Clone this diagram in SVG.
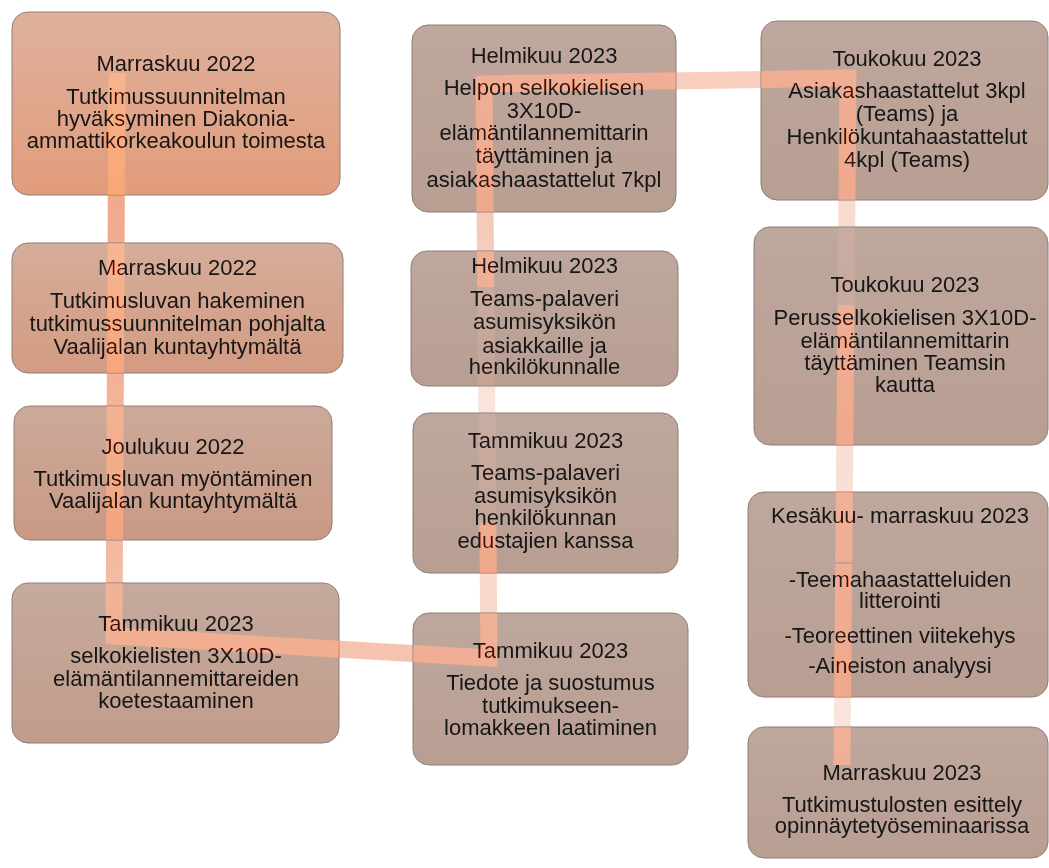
<svg xmlns="http://www.w3.org/2000/svg" width="1049" height="868" viewBox="0 0 1049 868">
<defs>
<linearGradient id="gN1" x1="0" y1="0" x2="0" y2="1"><stop offset="0" stop-color="#deb19d"/><stop offset="1" stop-color="#e29c7b"/></linearGradient>
<linearGradient id="gN2" x1="0" y1="0" x2="0" y2="1"><stop offset="0" stop-color="#d5ad9a"/><stop offset="1" stop-color="#d39b82"/></linearGradient>
<linearGradient id="gN3" x1="0" y1="0" x2="0" y2="1"><stop offset="0" stop-color="#cca999"/><stop offset="1" stop-color="#c99985"/></linearGradient>
<linearGradient id="gN4" x1="0" y1="0" x2="0" y2="1"><stop offset="0" stop-color="#c5aa9d"/><stop offset="1" stop-color="#c19c8b"/></linearGradient>
<linearGradient id="gN" x1="0" y1="0" x2="0" y2="1"><stop offset="0" stop-color="#bea79d"/><stop offset="1" stop-color="#b99e92"/></linearGradient>
<linearGradient id="bA" gradientUnits="userSpaceOnUse" x1="0" y1="73" x2="0" y2="636"><stop offset="0" stop-color="#eea487"/><stop offset="1" stop-color="#f4bea6"/></linearGradient>
<linearGradient id="bC" gradientUnits="userSpaceOnUse" x1="0" y1="658" x2="0" y2="84"><stop offset="0.11" stop-color="#f8d8cc"/><stop offset="0.45" stop-color="#f9e3db"/><stop offset="0.74" stop-color="#f6cab8"/></linearGradient>
<linearGradient id="bE" gradientUnits="userSpaceOnUse" x1="0" y1="78" x2="0" y2="765"><stop offset="0.2" stop-color="#f8dbd0"/><stop offset="0.58" stop-color="#f9e0d6"/><stop offset="0.93" stop-color="#f9e5de"/></linearGradient>
</defs>
<style>
.box{stroke:#8e7f78;stroke-width:1}
.lbl{font-family:"Liberation Sans",Arial,sans-serif;font-size:22px;fill:#161616;text-anchor:middle}
.band{fill:none;stroke-width:17;stroke-linecap:square}
.ov{fill:none;stroke-width:17;stroke-linecap:butt;stroke-linejoin:miter}
.strong{stroke:#e28e79}
.subtle{stroke:#968886}
</style>
<rect width="1049" height="868" fill="#ffffff"/>
<g id="connectors">
<line class="band" x1="117" y1="73" x2="114" y2="636" stroke="url(#bA)" style="stroke-linecap:butt"/>
<line class="band" x1="114" y1="636" x2="489" y2="658" stroke="#f6c4ae"/>
<line class="band" x1="489" y1="658" x2="484" y2="84" stroke="url(#bC)"/>
<line class="band" x1="484" y1="84" x2="848" y2="78" stroke="#f8cfbf"/>
<line class="band" x1="848" y1="78" x2="842" y2="765" stroke="url(#bE)" style="stroke-linecap:butt"/>
</g>
<g id="node1"><rect class="box" x="12" y="12" width="328" height="183" rx="16" fill="url(#gN1)"/>
<text class="lbl"><tspan x="176" y="71">Marraskuu 2022</tspan><tspan x="176" y="104">Tutkimussuunnitelman</tspan><tspan x="176" y="125.5">hyväksyminen Diakonia-</tspan><tspan x="176" y="147.5">ammattikorkeakoulun toimesta</tspan></text></g>
<g id="node2"><rect class="box" x="12" y="243" width="331" height="130" rx="16" fill="url(#gN2)"/>
<text class="lbl"><tspan x="177.5" y="275">Marraskuu 2022</tspan><tspan x="177.5" y="308">Tutkimusluvan hakeminen</tspan><tspan x="177.5" y="331">tutkimussuunnitelman pohjalta</tspan><tspan x="177.5" y="354">Vaalijalan kuntayhtymältä</tspan></text></g>
<g id="node3"><rect class="box" x="14" y="406" width="318" height="134" rx="16" fill="url(#gN3)"/>
<text class="lbl"><tspan x="173" y="454">Joulukuu 2022</tspan><tspan x="173" y="486">Tutkimusluvan myöntäminen</tspan><tspan x="173" y="508">Vaalijalan kuntayhtymältä</tspan></text></g>
<g id="node4"><rect class="box" x="12" y="583" width="327" height="160" rx="16" fill="url(#gN4)"/>
<text class="lbl"><tspan x="176" y="631">Tammikuu 2023</tspan><tspan x="176" y="663">selkokielisten 3X10D-</tspan><tspan x="176" y="686">elämäntilannemittareiden</tspan><tspan x="176" y="708">koetestaaminen</tspan></text></g>
<g id="node5"><rect class="box" x="412" y="25" width="264" height="187" rx="16" fill="url(#gN)"/>
<text class="lbl"><tspan x="544" y="63">Helmikuu 2023</tspan><tspan x="544" y="95">Helpon selkokielisen</tspan><tspan x="544" y="118">3X10D-</tspan><tspan x="544" y="140">elämäntilannemittarin</tspan><tspan x="544" y="163">täyttäminen ja</tspan><tspan x="544" y="187">asiakashaastattelut 7kpl</tspan></text></g>
<g id="node6"><rect class="box" x="411" y="251" width="267" height="135" rx="16" fill="url(#gN)"/>
<text class="lbl"><tspan x="544.5" y="273">Helmikuu 2023</tspan><tspan x="544.5" y="306">Teams-palaveri</tspan><tspan x="544.5" y="329">asumisyksikön</tspan><tspan x="544.5" y="353">asiakkaille ja</tspan><tspan x="544.5" y="374">henkilökunnalle</tspan></text></g>
<g id="node7"><rect class="box" x="413" y="413" width="265" height="160" rx="16" fill="url(#gN)"/>
<text class="lbl"><tspan x="545.5" y="448">Tammikuu 2023</tspan><tspan x="545.5" y="480">Teams-palaveri</tspan><tspan x="545.5" y="503">asumisyksikön</tspan><tspan x="545.5" y="525">henkilökunnan</tspan><tspan x="545.5" y="548">edustajien kanssa</tspan></text></g>
<g id="node8"><rect class="box" x="413" y="613" width="275" height="152" rx="16" fill="url(#gN)"/>
<text class="lbl"><tspan x="550.5" y="658">Tammikuu 2023</tspan><tspan x="550.5" y="690">Tiedote ja suostumus</tspan><tspan x="550.5" y="713">tutkimukseen-</tspan><tspan x="550.5" y="735">lomakkeen laatiminen</tspan></text></g>
<g id="node9"><rect class="box" x="761" y="21" width="287" height="179" rx="16" fill="url(#gN)"/>
<text class="lbl"><tspan x="907" y="66">Toukokuu 2023</tspan><tspan x="907" y="98">Asiakashaastattelut 3kpl</tspan><tspan x="907" y="121">(Teams) ja</tspan><tspan x="907" y="144">Henkilökuntahaastattelut</tspan><tspan x="907" y="167">4kpl (Teams)</tspan></text></g>
<g id="node10"><rect class="box" x="754" y="227" width="294" height="218" rx="16" fill="url(#gN)"/>
<text class="lbl"><tspan x="905" y="292">Toukokuu 2023</tspan><tspan x="905" y="325">Perusselkokielisen 3X10D-</tspan><tspan x="905" y="348">elämäntilannemittarin</tspan><tspan x="905" y="370">täyttäminen Teamsin</tspan><tspan x="905" y="392">kautta</tspan></text></g>
<g id="node11"><rect class="box" x="748" y="492" width="300" height="205" rx="16" fill="url(#gN)"/>
<text class="lbl"><tspan x="900" y="523">Kesäkuu- marraskuu 2023</tspan><tspan x="900" y="587">-Teemahaastatteluiden</tspan><tspan x="900" y="608">litterointi</tspan><tspan x="900" y="643">-Teoreettinen viitekehys</tspan><tspan x="900" y="673">-Aineiston analyysi</tspan></text></g>
<g id="node12"><rect class="box" x="748" y="727" width="300" height="131" rx="16" fill="url(#gN)"/>
<text class="lbl"><tspan x="902" y="780">Marraskuu 2023</tspan><tspan x="902" y="812">Tutkimustulosten esittely</tspan><tspan x="902" y="833">opinnäytetyöseminaarissa</tspan></text></g>
<g id="connectors-over" style="mix-blend-mode:overlay">
<line class="ov strong" x1="117" y1="73" x2="116.35" y2="195"/>
<line class="ov strong" x1="116.09" y1="243" x2="115.4" y2="373"/>
<line class="ov strong" x1="115.23" y1="406" x2="114.51" y2="540"/>
<polyline class="ov strong" points="114.28,583 114,636 339,649.2"/>
<polyline class="ov strong" points="413,653.5 489,658 488.6,613"/>
<line class="ov strong" x1="488.26" y1="573" x2="487.82" y2="523"/>
<line class="ov subtle" x1="487.82" y1="523" x2="486.87" y2="413"/>
<line class="ov subtle" x1="486.63" y1="386" x2="485.77" y2="287"/>
<line class="ov strong" x1="485.77" y1="287" x2="485.45" y2="251"/>
<polyline class="ov strong" points="485.11,212 484,84 676,80.84"/>
<polyline class="ov strong" points="761,79.43 848,78 846.93,200"/>
<line class="ov subtle" x1="846.7" y1="227" x2="846.02" y2="305"/>
<line class="ov strong" x1="846.02" y1="305" x2="844.79" y2="445"/>
<line class="ov strong" x1="844.38" y1="492" x2="843.78" y2="562"/>
<line class="ov strong" x1="843.76" y1="564" x2="842.59" y2="697"/>
<line class="ov strong" x1="842.33" y1="727" x2="842" y2="765"/>
</g>
</svg>
